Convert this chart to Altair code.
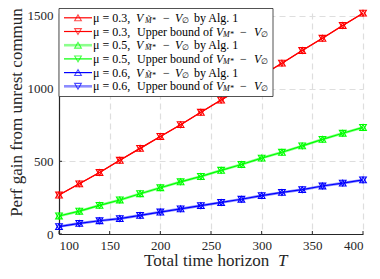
import altair as alt
import pandas as pd

# ---- data ----
T = [100, 120, 140, 160, 180, 200, 220, 240, 260, 280, 300, 320, 340, 360, 380, 400]
red_alg = [268, 345, 423, 507, 589, 671, 752, 837, 921, 1005, 1090, 1175, 1262, 1346, 1434, 1519]
red_ub = [268, 345, 423, 507, 589, 671, 752, 837, 921, 1005, 1090, 1175, 1262, 1346, 1434, 1519]
green_alg = [124, 157, 197, 234, 277, 318, 359, 396, 438, 478, 522, 562, 606, 651, 693, 733]
green_ub = [124, 157, 197, 234, 277, 318, 359, 396, 438, 478, 522, 562, 606, 651, 693, 733]
blue_alg = [51, 73, 91, 106, 128, 151, 173, 195, 217, 239, 264, 286, 305, 330, 350, 372]
blue_ub = [51, 73, 91, 106, 128, 151, 173, 195, 217, 239, 264, 286, 305, 330, 350, 372]

series_names = ["r_alg", "r_ub", "g_alg", "g_ub", "b_alg", "b_ub"]
series_vals = [red_alg, red_ub, green_alg, green_ub, blue_alg, blue_ub]
series_colors = ["#ff0000", "#ff0000", "#00ff00", "#00ff00", "#0000ff", "#0000ff"]
series_shapes = ["triangle-up", "triangle-down"] * 3
series_halo = [False, False, True, False, False, True]

x_ticks = [100, 150, 200, 250, 300, 350, 400]
y_ticks = [0, 500, 1000, 1500]

# legend text segments: (row, x, text, subscript, italic)
NB = "\u00a0"
mus = ["0.3", "0.5", "0.6"]
seg_rows = []
for k, mu in enumerate(mus):
    ra = 2 * k
    rb = 2 * k + 1
    lead = "\u03bc" + NB + "=" + NB + mu + ","
    seg_rows += [
        (ra, 34, lead, False, False),
        (ra, 77, "V", False, True),
        (ra, 86, "M\u0303*", True, True),
        (ra, 104, "\u2212", False, False),
        (ra, 116, "V", False, True),
        (ra, 123, "\u2205", True, False),
        (ra, 135, "by Alg. 1", False, False),
        (rb, 34, lead, False, False),
        (rb, 78, "Upper bound of", False, False),
        (rb, 157, "V", False, True),
        (rb, 164, "M*", True, True),
        (rb, 181, "\u2212", False, False),
        (rb, 195, "V", False, True),
        (rb, 202, "\u2205", True, False),
    ]

# ---- tables ----
rows = []
for name, vals, col, shp, halo in zip(series_names, series_vals, series_colors, series_shapes, series_halo):
    for t, v in zip(T, vals):
        rows.append({"T": t, "v": v, "s": name, "col": col, "shape": shp, "halo": halo})
df = pd.DataFrame(rows)

leg = pd.DataFrame({
    "i": list(range(6)),
    "col": series_colors,
    "shape": series_shapes,
    "sw": [2.6 if h else 1.2 for h in series_halo],
    "op": [0.45 if h else 1.0 for h in series_halo],
})
segs = pd.DataFrame(seg_rows, columns=["i", "x", "txt", "sub", "ital"])

W, H = 304, 221
FONT = "Liberation Serif, Times New Roman, DejaVu Serif, serif"
AX = "#262626"
LEG_TOP = -4.5

xs = alt.Scale(domain=[100, 400], nice=False, zero=False)
ys = alt.Scale(domain=[0, 1520], nice=False)

x_axis = alt.Axis(values=x_ticks, ticks=False, grid=True, gridDash=[6, 4], gridColor="#dedede",
                  gridWidth=1.2, domainColor=AX, domainWidth=1.2, labelFont=FONT, labelFontSize=13,
                  labelColor=AX, labelPadding=5, format="d", title=None)
y_axis = alt.Axis(values=y_ticks, ticks=False, grid=True, gridDash=[6, 4], gridColor="#dedede",
                  gridWidth=1.2, domainColor=AX, domainWidth=1.2, labelFont=FONT, labelFontSize=13,
                  labelColor=AX, labelPadding=6, format="d", title="Perf gain from unrest commun",
                  titleFont=FONT, titleFontSize=17, titleFontWeight="normal", titleColor=AX,
                  titleX=-43, titleY=99, titleAlign="center", titleBaseline="middle")

base = alt.Chart(df)
halo_lines = base.transform_filter("datum.halo").mark_line(strokeWidth=2.6, opacity=0.45).encode(
    x=alt.X("T:Q", scale=xs, axis=x_axis),
    y=alt.Y("v:Q", scale=ys, axis=y_axis),
    color=alt.Color("col:N", scale=None),
    detail="s:N",
)
lines = base.transform_filter("!datum.halo").mark_line(strokeWidth=1.2).encode(
    x=alt.X("T:Q", scale=xs),
    y=alt.Y("v:Q", scale=ys),
    color=alt.Color("col:N", scale=None),
    detail="s:N",
)
points = base.mark_point(filled=False, size=45, strokeWidth=1.1, opacity=1).encode(
    x=alt.X("T:Q", scale=xs),
    y=alt.Y("v:Q", scale=ys),
    color=alt.Color("col:N", scale=None),
    shape=alt.Shape("shape:N", scale=None),
)

xt = alt.Chart(pd.DataFrame({"T": x_ticks})).mark_rule(color=AX, strokeWidth=1).encode(
    x=alt.X("T:Q", scale=xs), y=alt.value(H), y2=alt.value(H - 3))
yt = alt.Chart(pd.DataFrame({"v": y_ticks})).mark_rule(color=AX, strokeWidth=1).encode(
    y=alt.Y("v:Q", scale=ys), x=alt.value(0), x2=alt.value(3))

# x-axis title with italic T
xtitle1 = alt.Chart(pd.DataFrame({"t": ["Total time horizon"]})).mark_text(
    align="left", baseline="alphabetic", font=FONT, fontSize=17, color=AX).encode(
    x=alt.value(85), y=alt.value(H + 32), text="t:N")
xtitle2 = alt.Chart(pd.DataFrame({"t": ["T"]})).mark_text(
    align="left", baseline="alphabetic", font=FONT, fontSize=17, fontStyle="italic", color=AX).encode(
    x=alt.value(219), y=alt.value(H + 32), text="t:N")

# ---- legend ----
box = alt.Chart(pd.DataFrame({"a": [0]})).mark_rect(fill="white", stroke=AX, strokeWidth=0.8).encode(
    x=alt.value(0), x2=alt.value(214), y=alt.value(LEG_TOP), y2=alt.value(LEG_TOP + 88))
legbase = alt.Chart(leg).transform_calculate(py=f"{LEG_TOP} + 9.3 + 13.7 * datum.i")
leg_lines = legbase.mark_rule().encode(
    x=alt.value(5), x2=alt.value(33), y=alt.Y("py:Q", scale=None),
    color=alt.Color("col:N", scale=None),
    strokeWidth=alt.StrokeWidth("sw:Q", scale=None),
    opacity=alt.Opacity("op:Q", scale=None),
)
leg_pts = legbase.mark_point(filled=False, size=45, strokeWidth=1.1).encode(
    x=alt.value(19), y=alt.Y("py:Q", scale=None),
    color=alt.Color("col:N", scale=None),
    shape=alt.Shape("shape:N", scale=None),
)
segbase = alt.Chart(segs).transform_calculate(
    py=f"{LEG_TOP} + 9.3 + 13.7 * datum.i + (datum.sub ? 3 : 0)",
    fs="datum.sub ? 8 : 12",
)
seg_norm = segbase.transform_filter("!datum.ital").mark_text(
    align="left", baseline="middle", font=FONT, color="black").encode(
    x=alt.X("x:Q", scale=None), y=alt.Y("py:Q", scale=None), text="txt:N",
    size=alt.Size("fs:Q", scale=None))
seg_ital = segbase.transform_filter("datum.ital").mark_text(
    align="left", baseline="middle", font=FONT, fontStyle="italic", color="black").encode(
    x=alt.X("x:Q", scale=None), y=alt.Y("py:Q", scale=None), text="txt:N",
    size=alt.Size("fs:Q", scale=None))

chart = alt.layer(
    halo_lines, lines, points, xt, yt, xtitle1, xtitle2, box, leg_lines, leg_pts, seg_norm, seg_ital
).properties(
    width=W, height=H,
    autosize=alt.AutoSizeParams(type="none"),
    padding={"left": 51, "top": 5, "right": 9, "bottom": 37},
    background="white",
).configure_view(stroke=None)

chart.save("out.html", embed_options={"renderer": "svg", "actions": False})
